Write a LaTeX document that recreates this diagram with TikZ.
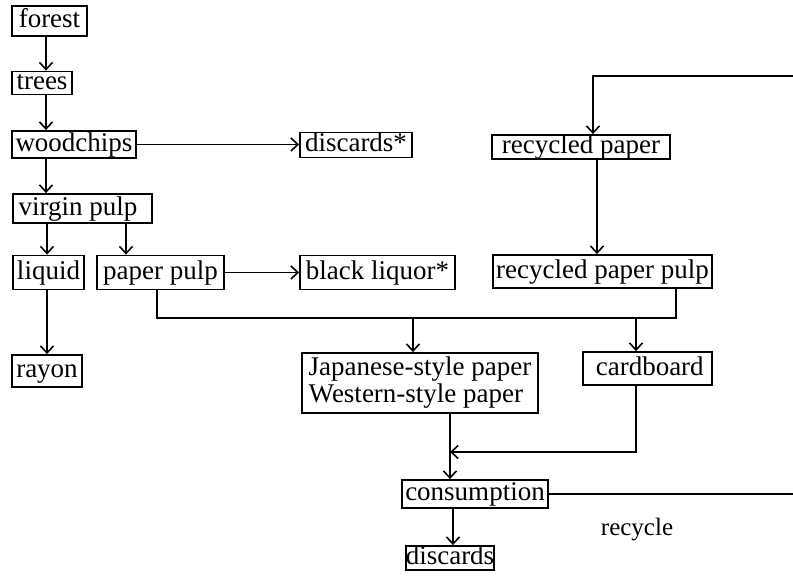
\documentclass[tikz,border=0pt]{standalone}
\usepackage{fontspec}
\setmainfont{Liberation Serif}
\usetikzlibrary{arrows.meta,calc}
\begin{document}
\begin{tikzpicture}[x=1pt,y=-1pt,
  box/.style={draw, line width=1.8pt, inner sep=0pt, font=\fontsize{27}{27}\selectfont,
     text height=18pt, text depth=5pt},
  twobox/.style={draw, line width=1.8pt, inner sep=0pt, font=\fontsize{27}{27}\selectfont, align=left},
  conn/.style={line width=1.8pt},
  arr/.style={conn, -{Straight Barb[length=7pt,width=13pt,line width=1.6pt]}},
  lbl/.style={font=\fontsize{25}{25}\selectfont}]
\clip (0,0) rectangle (793,576);
\fill[white] (0,0) rectangle (793,576);
% nodes (centre, width, height from the reference boxes)
\node[box, minimum width=75pt, minimum height=30pt] (forest) at (49.5,21) {forest};
\node[box, minimum width=60pt, minimum height=22pt] (trees) at (42,83) {trees};
\node[box, minimum width=124pt, minimum height=27pt] (wood) at (74,144.5) {woodchips};
\node[box, minimum width=112pt, minimum height=25pt] (disc1) at (356,145) {discards*};
\node[box, minimum width=139pt, minimum height=29pt] (virgin) at (82.5,208.5) {virgin pulp\,\,};
\node[box, minimum width=71pt, minimum height=34pt] (liquid) at (48.5,272.5) {liquid};
\node[box, minimum width=127pt, minimum height=34pt] (ppulp) at (160.5,272.5) {paper pulp};
\node[box, minimum width=155pt, minimum height=34pt] (black) at (377.5,272.5) {black liquor*};
\node[box, minimum width=70pt, minimum height=32pt] (rayon) at (47,371) {rayon};
\node[box, minimum width=178pt, minimum height=24pt] (recp) at (581,147) {recycled paper};
\node[box, minimum width=219pt, minimum height=33pt] (recpulp) at (602.5,271.5) {recycled paper pulp};
\node[twobox, minimum width=236pt, minimum height=60pt] (jap) at (420,383) {Japanese-style paper\\Western-style paper};
\node[box, minimum width=129pt, minimum height=33pt] (card) at (647.5,368.5) {\,cardboard};
\node[box, minimum width=146pt, minimum height=28pt] (cons) at (475,494) {consumption};
\node[box, minimum width=84pt, minimum height=24pt] (disc2) at (450,558) {discards};
\node[lbl] (reclbl) at (637,530) {recycle};
% connectors
\draw[arr] (forest.south -| 46,0) -- (trees.north -| 46,0);
\draw[arr] (trees.south -| 46,0) -- (wood.north -| 46,0);
\draw[arr] (wood.south -| 46,0) -- (virgin.north -| 46,0);
\draw[arr] (wood.east) -- (disc1.west |- wood.east);
\draw[arr] (virgin.south -| 47,0) -- (liquid.north -| 47,0);
\draw[arr] (virgin.south -| 126,0) -- (ppulp.north -| 126,0);
\draw[arr] (ppulp.east) -- (black.west);
\draw[arr] (liquid.south -| 47,0) -- (rayon.north -| 47,0);
\coordinate (busL) at (157,318);
\coordinate (busR) at (676,318);
\draw[conn] (ppulp.south -| busL) -- (busL) -- (busR) -- (recpulp.south -| busR);
\draw[arr] (413,318) -- (jap.north -| 413,0);
\draw[arr] (636,318) -- (card.north -| 636,0);
\coordinate (join) at (450,452);
\draw[arr] (card.south -| 636,0) |- (join);
\draw[arr] (jap.south -| join) -- (cons.north -| join);
\draw[arr] (cons.south -| 453,0) -- (disc2.north -| 453,0);
\draw[arr] (cons.east) -- (820,494) -- (820,76) -- (593,76) -- (recp.north -| 593,0);
\draw[arr] (recp.south -| 597,0) -- (recpulp.north -| 597,0);
\end{tikzpicture}
\end{document}
